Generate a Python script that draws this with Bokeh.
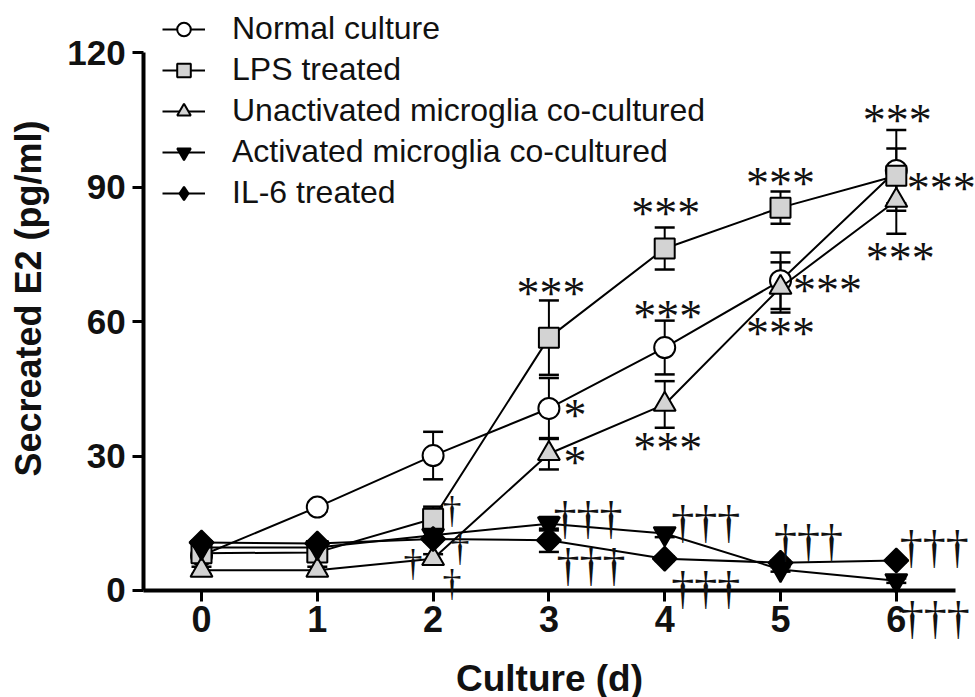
from bokeh.plotting import figure
from bokeh.models import (Range1d, FixedTicker, Legend, LegendItem, Whisker, TeeHead,
                          ColumnDataSource, LabelSet, LinearAxis)
from bokeh.embed import file_html
from bokeh.resources import INLINE
import numpy as np

# ---------------- data ----------------
days = [0, 1, 2, 3, 4, 5, 6]
y_ticks = [0, 30, 60, 90, 120]

normal = [7.8, 18.6, 30.1, 40.6, 54.2, 69.1, 93.7]
normal_err = [1.0, 1.0, 5.3, 6.8, 6.0, 6.3, 9.0]
lps = [8.3, 8.5, 16.0, 56.4, 76.3, 85.4, 92.5]
lps_err = [1.0, 1.0, 2.7, 8.3, 4.7, 3.6, 6.1]
unact = [4.5, 4.5, 7.1, 30.5, 41.5, 67.6, 87.0]
unact_err = [0.8, 0.8, 1.0, 3.5, 5.2, 5.6, 7.4]
act = [9.6, 9.6, 12.3, 14.9, 12.7, 4.7, 2.2]
act_err = [0.5, 0.5, 1.0, 1.5, 0.8, 0.5, 0.5]
il6 = [10.7, 10.5, 11.5, 11.2, 7.1, 6.2, 6.7]
il6_err = [0.5, 0.5, 0.5, 2.6, 0.5, 0.5, 0.5]

series_names = ["Normal culture", "LPS treated", "Unactivated microglia co-cultured",
                "Activated microglia co-cultured", "IL-6 treated"]

# significance marks: (day, series key, label)
ast_day = [3, 3, 3, 4, 4, 4, 5, 5, 5, 6, 6, 6]
ast_ref = ["lps", "normal", "unact", "lps", "normal", "unact",
           "lps", "normal", "unact", "normal", "lps", "unact"]
ast_text = ["***", "*", "*", "***", "***", "***", "***", "***", "***", "***", "***", "***"]

dag3_day = [3, 3, 4, 4, 5, 6, 6]
dag3_ref = ["act", "il6", "act", "il6", "il6", "il6", "act"]
dag3_text = ["†††"] * 7

dag1_day = [2, 2, 2, 2]
dag1_ref = ["il6", "il6", "il6", "il6"]
dag1_text = ["†"] * 4

# ---------------- layout (screen-pixel offsets of marks from their point; +dy = down) ----
ast_dx = [2, 26, 26, 1, 3, 3, 0, 47, 0, 1, 45, 4]
ast_dy = [-44, 7, 9, -35, -31, 44, -24, 10, 46, -50, 13, 58]
dag3_dx = [39, 42, 41, 41, 28, 38, 39]
dag3_dy = [-5, 25, -11, 30, -21, -13, 38]
dag1_dx = [19, -20, 27, 19]
dag1_dy = [-29, 24, 9, 44]

vals = {"normal": normal, "lps": lps, "unact": unact, "act": act, "il6": il6}

FONT = "Liberation Sans"

# whole canvas is the frame; axes are pinned at x=-0.5 and y=0
p = figure(width=975, height=697, output_backend="svg", toolbar_location=None,
           x_range=Range1d(-1.7358, 6.6839), y_range=Range1d(-23.87, 131.61),
           min_border_left=0, min_border_right=0, min_border_top=0, min_border_bottom=0)
p.outline_line_color = None
p.xgrid.visible = False
p.ygrid.visible = False
p.background_fill_color = "white"
p.border_fill_color = "white"

p.xaxis.ticker = FixedTicker(ticks=days)
p.yaxis.ticker = FixedTicker(ticks=y_ticks)
p.xaxis.fixed_location = 0
p.yaxis.fixed_location = -0.5
p.xaxis.bounds = (-0.5, 6.51)
p.yaxis.bounds = (0, 120)
for ax in (p.xaxis[0], p.yaxis[0]):
    ax.axis_line_width = 4
    ax.axis_line_color = "black"
    ax.major_tick_line_width = 3
    ax.major_tick_line_color = "black"
    ax.major_tick_out = 11
    ax.major_tick_in = 0
    ax.minor_tick_out = 0
    ax.minor_tick_in = 0
    ax.major_label_text_font = FONT
    ax.major_label_text_font_style = "bold"
    ax.major_label_text_color = "#111111"
    ax.axis_label_text_font = FONT
    ax.axis_label_text_font_style = "bold"
    ax.axis_label_text_color = "#111111"
p.xaxis.major_label_text_font_size = "36px"
p.yaxis.major_label_text_font_size = "35px"
p.xaxis.major_label_standoff = 5
p.yaxis.major_label_standoff = 7
p.xaxis.axis_label = "Culture (d)"
p.xaxis.axis_label_text_font_size = "37px"
p.xaxis.axis_label_standoff = 22

# y title carried by a line-less companion axis so it sits a little above the frame centre
ytitle_axis = LinearAxis(fixed_location=-0.5, bounds=(10.2, 120), ticker=FixedTicker(ticks=[]),
                         axis_line_color=None, major_tick_line_color=None,
                         minor_tick_line_color=None, major_tick_out=11, major_tick_in=0,
                         minor_tick_out=0, minor_tick_in=0,
                         axis_label="Secreated E2 (pg/ml)", axis_label_standoff=95,
                         axis_label_text_font=FONT, axis_label_text_font_style="bold",
                         axis_label_text_font_size="36px", axis_label_text_color="#111111")
p.add_layout(ytitle_axis, "left")

styles = [
    dict(key="normal", y=normal, e=normal_err, marker="circle", size=21, fill="white", angle=0),
    dict(key="lps", y=lps, e=lps_err, marker="square", size=20, fill="#d3d3d3", angle=0),
    dict(key="unact", y=unact, e=unact_err, marker="triangle", size=22, fill="#d3d3d3", angle=0),
    dict(key="act", y=act, e=act_err, marker="inverted_triangle", size=22, fill="black", angle=0),
    dict(key="il6", y=il6, e=il6_err, marker="square", size=17, fill="black", angle=np.pi / 4),
]

items = []
for name, st in zip(series_names, styles):
    y = np.array(st["y"]); e = np.array(st["e"])
    src = ColumnDataSource(dict(x=days, y=y, upper=y + e, lower=y - e))
    w = Whisker(source=src, base="x", upper="upper", lower="lower", line_width=2,
                line_color="black",
                upper_head=TeeHead(size=20, line_width=2.5, line_color="black"),
                lower_head=TeeHead(size=20, line_width=2.5, line_color="black"))
    p.add_layout(w)
    lr = p.line("x", "y", source=src, line_color="black", line_width=2)
    sr = p.scatter("x", "y", source=src, marker=st["marker"], size=st["size"],
                   fill_color=st["fill"], line_color="black", line_width=2, angle=st["angle"])
    rends = [lr, sr]
    if st["key"] == "il6":
        # legend swatch only: a diamond (the plotted one is a rotated square)
        sw = p.scatter("x", "y", source=src, marker="diamond", size=st["size"],
                       fill_color="black", line_color="black", line_width=2, visible=False)
        rends = [lr, sw]
    items.append(LegendItem(label=name, renderers=rends))

legend = Legend(items=items, location=(162, 486), border_line_color=None,
                background_fill_alpha=0, padding=0, margin=0, spacing=4,
                glyph_width=43, glyph_height=34, label_height=34, label_standoff=27,
                label_text_font=FONT, label_text_font_size="32px", label_text_color="#111111")
p.add_layout(legend)


def mark_source(day_list, ref_list, text_list, dx, dy):
    return ColumnDataSource(dict(
        x=day_list,
        y=[vals[r][d] for d, r in zip(day_list, ref_list)],
        text=text_list,
        dx=dx,
        dy=[-v for v in dy],
    ))


ast_src = mark_source(ast_day, ast_ref, ast_text, ast_dx, ast_dy)
p.add_layout(LabelSet(x="x", y="y", text="text", source=ast_src, x_offset="dx", y_offset="dy",
                      text_align="center", text_baseline="middle", text_font="DejaVu Sans",
                      text_font_size="46px", text_color="#111111"))
dag3_src = mark_source(dag3_day, dag3_ref, dag3_text, dag3_dx, dag3_dy)
p.add_layout(LabelSet(x="x", y="y", text="text", source=dag3_src, x_offset="dx", y_offset="dy",
                      text_align="center", text_baseline="middle", text_font="DejaVu Sans",
                      text_font_size="46px", text_color="#111111"))
dag1_src = mark_source(dag1_day, dag1_ref, dag1_text, dag1_dx, dag1_dy)
p.add_layout(LabelSet(x="x", y="y", text="text", source=dag1_src, x_offset="dx", y_offset="dy",
                      text_align="center", text_baseline="middle", text_font="DejaVu Sans",
                      text_font_size="38px", text_color="#111111"))

open("out.html", "w").write(file_html(p, INLINE))
